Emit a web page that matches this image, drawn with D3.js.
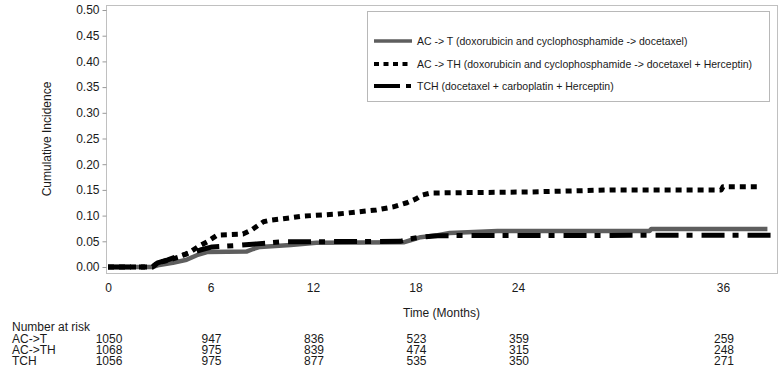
<!DOCTYPE html>
<html>
<head>
<meta charset="utf-8">
<script src="https://cdn.jsdelivr.net/npm/d3@7/dist/d3.min.js"></script>
<style>
  html, body { margin: 0; padding: 0; background: #fff; }
  svg { display: block; font-family: "Liberation Sans", Arial, sans-serif; }
</style>
</head>
<body>
<svg id="chart" width="780" height="381"></svg>
<script>
// ---- data ----
const seriesNames = ["AC->T", "AC->TH", "TCH"];
const legendLabels = [
  "AC -> T (doxorubicin and cyclophosphamide -> docetaxel)",
  "AC -> TH (doxorubicin and cyclophosphamide -> docetaxel + Herceptin)",
  "TCH (docetaxel + carboplatin + Herceptin)"
];
const acT = [[0,0],[2.6,0],[3.0,0.004],[3.8,0.008],[4.6,0.014],[5.2,0.023],[5.8,0.029],[8.1,0.030],[8.5,0.035],[8.9,0.039],[10.7,0.043],[12.2,0.047],[17.3,0.048],[17.8,0.053],[18.3,0.058],[19.3,0.062],[20.0,0.066],[22.8,0.070],[31.7,0.070],[31.8,0.074],[38.6,0.074]];
const acTH = [[0,0],[2.6,0],[2.9,0.008],[3.5,0.013],[4.2,0.020],[4.8,0.029],[5.3,0.040],[5.8,0.049],[6.4,0.062],[7.9,0.064],[8.4,0.072],[9.1,0.088],[9.5,0.091],[10.5,0.095],[11.4,0.099],[13.4,0.103],[14.6,0.107],[15.7,0.111],[16.7,0.117],[17.5,0.125],[18.0,0.132],[18.4,0.140],[18.9,0.144],[24.7,0.146],[29.5,0.150],[35.9,0.150],[36.0,0.156],[38.1,0.156]];
const tch = [[0,0],[2.6,0],[2.9,0.008],[3.5,0.014],[4.0,0.020],[4.8,0.027],[5.4,0.033],[6.1,0.039],[7.6,0.042],[8.7,0.045],[10.2,0.049],[17.1,0.050],[17.7,0.055],[18.3,0.058],[19.3,0.061],[38.9,0.062]];
const yTicks = [0, 0.05, 0.10, 0.15, 0.20, 0.25, 0.30, 0.35, 0.40, 0.45, 0.50];
const xTicks = [0, 6, 12, 18, 24, 36];
const riskTimes = [0, 6, 12, 18, 24, 36];
const riskACT = [1050, 947, 836, 523, 359, 259];
const riskACTH = [1068, 975, 839, 474, 315, 248];
const riskTCH = [1056, 975, 877, 535, 350, 271];

// ---- layout ----
const svg = d3.select("#chart");
const frame = {left: 106, top: 5, right: 777, bottom: 273};
const x = d3.scaleLinear().domain([0, 36]).range([108, 723]);
const y = d3.scaleLinear().domain([0, 0.5]).range([267, 10]);
const textColor = "#1a1a1a";

// frame
svg.append("rect")
  .attr("x", frame.left + 0.5).attr("y", frame.top + 0.5)
  .attr("width", frame.right - frame.left).attr("height", frame.bottom - frame.top)
  .attr("fill", "none").attr("stroke", "#c0c0c0").attr("stroke-width", 1);

// y axis
const yAxis = d3.axisLeft(y).tickValues(yTicks).tickFormat(d3.format(".2f")).tickSize(4).tickPadding(3);
const gy = svg.append("g").attr("transform", `translate(${frame.left + 0.5},0)`).call(yAxis);
gy.select(".domain").remove();
gy.selectAll(".tick line").attr("stroke", "#999");
gy.selectAll(".tick text").attr("fill", textColor).style("font-size", "12px").style("font-family", "Liberation Sans, Arial, sans-serif");

// x axis labels
const xAxis = d3.axisBottom(x).tickValues(xTicks).tickSize(0).tickPadding(10);
const gx = svg.append("g").attr("transform", `translate(0,${frame.bottom})`).call(xAxis);
gx.select(".domain").remove();
gx.selectAll(".tick text").attr("fill", textColor).style("font-size", "12px").style("font-family", "Liberation Sans, Arial, sans-serif");

// axis titles
svg.append("text").attr("transform", "translate(51,139) rotate(-90)")
  .attr("text-anchor", "middle").attr("fill", textColor).style("font-size", "12px")
  .text("Cumulative Incidence");
svg.append("text").attr("x", (frame.left + frame.right) / 2).attr("y", 317)
  .attr("text-anchor", "middle").attr("fill", textColor).style("font-size", "12px")
  .text("Time (Months)");

// curves
const styles = [
  {data: acT, stroke: "#5e5e5e", width: 4.5, dash: null},
  {data: acTH, stroke: "#000", width: 5, dash: "6,5"},
  {data: tch, stroke: "#000", width: 5, dash: "23,8,6,9"}
];
const line = d3.line().x(d => x(d[0])).y(d => y(d[1])).curve(d3.curveLinear);
svg.append("g").selectAll("path").data(styles).join("path")
  .attr("d", d => line(d.data))
  .attr("fill", "none")
  .attr("stroke", d => d.stroke)
  .attr("stroke-width", d => d.width)
  .attr("stroke-dasharray", d => d.dash)
  .attr("stroke-linejoin", "round");

// legend
svg.append("rect").attr("x", 367.5).attr("y", 11.5).attr("width", 402).attr("height", 90)
  .attr("fill", "#fff").attr("stroke", "#b8b8b8");
const legendStyles = [
  {stroke: "#5e5e5e", width: 3.5, dash: null},
  {stroke: "#000", width: 4, dash: "5,4.5"},
  {stroke: "#000", width: 4, dash: "26,6,5,10"}
];
const lg = svg.append("g").selectAll("g").data(legendLabels).join("g")
  .attr("transform", (d, i) => `translate(0,${[41, 64, 86][i]})`);
lg.append("line").attr("x1", 374).attr("x2", 412)
  .attr("stroke", (d, i) => legendStyles[i].stroke)
  .attr("stroke-width", (d, i) => legendStyles[i].width)
  .attr("stroke-dasharray", (d, i) => legendStyles[i].dash);
lg.append("text").attr("x", 417).attr("y", 4).attr("fill", textColor)
  .style("font-size", "10.5px").text(d => d);

// number at risk table
const rows = [riskACT, riskACTH, riskTCH];
svg.append("text").attr("x", 12).attr("y", 331).attr("fill", textColor)
  .style("font-size", "12px").text("Number at risk");
rows.forEach((vals, i) => {
  const by = 342.5 + i * 11;
  svg.append("text").attr("x", 12).attr("y", by).attr("fill", textColor)
    .style("font-size", "12px").text(seriesNames[i]);
  svg.append("g").selectAll("text").data(vals).join("text")
    .attr("x", (d, j) => x(riskTimes[j]) + 1)
    .attr("y", by)
    .attr("text-anchor", "middle")
    .attr("fill", textColor)
    .style("font-size", "12px")
    .text(d => d);
});
</script>
</body>
</html>
